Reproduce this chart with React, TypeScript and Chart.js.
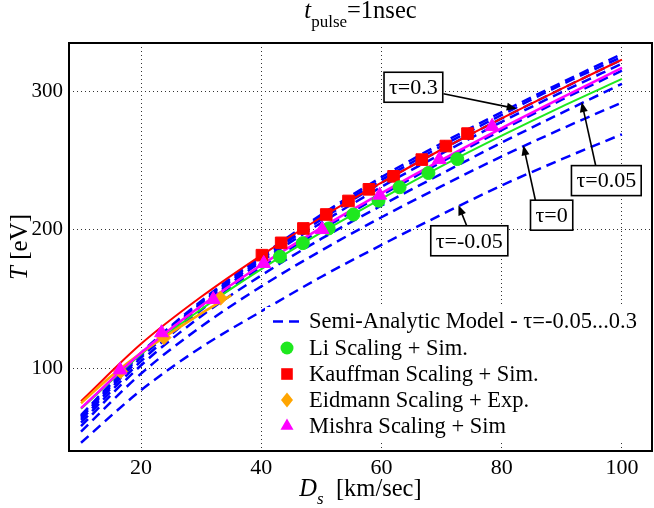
import { useEffect, useRef } from 'react';
import Chart from 'chart.js/auto';

// shock velocity samples of the semi-analytic curves [km/sec]
const modelD = [10, 20, 30, 40, 50, 60, 70, 80, 90, 100];

// semi-analytic model, one curve per tau (T in eV)
const tauM005T = [46, 84, 115, 141, 166, 189, 211, 232, 251, 269];
const tau000T = [54, 96, 130, 159, 185, 209, 231.5, 253, 273, 292];
const tau005T = [58, 102, 137.5, 167, 193.5, 217.5, 240.5, 263, 284.5, 305.5];
const tau010T = [60.5, 105, 142, 173, 200, 225, 249, 272, 294, 315];
const tau015T = [62.5, 107.5, 145, 177, 205, 231, 255, 278, 299.5, 320];
const tau020T = [64, 109, 146.5, 178.5, 207.5, 234, 258, 280.5, 302, 323];
const tau025T = [65, 110, 147.5, 180, 209.5, 236, 260.5, 283, 305, 325];
const tau030T = [66, 111, 148.5, 181, 211, 238, 262.5, 285, 306.5, 327];

// scaling law curves
const liCurveT = [70.5, 110, 142.5, 171.5, 198, 222.5, 246, 268, 289, 309];
const kauffmanCurveT = [76, 117.5, 151.5, 181.5, 209, 234, 258, 280.5, 302, 323];
const mishraCurveT = [71, 111, 145, 174.5, 201.5, 226.5, 250.5, 273.5, 295.5, 317];
const eidmannCurveD = [10, 15, 20, 25, 30, 35];
const eidmannCurveT = [74.5, 94, 111, 125.5, 139.5, 152.5];

// simulation / experiment points
const liD = [43.1, 46.9, 51.2, 55.3, 59.5, 63.0, 67.8, 72.6];
const liT = [180.5, 190.3, 200.9, 211, 221, 230.7, 241, 251.1];
const kauffmanD = [40.1, 43.3, 47.0, 50.8, 54.5, 57.9, 62.0, 66.7, 70.7, 74.3];
const kauffmanT = [181.6, 190.5, 200.9, 211, 220.8, 229.2, 238.6, 250.7, 260.5, 269.5];
const eidmannD = [16.6, 23.8, 33.2];
const eidmannT = [97.5, 122, 150.5];
const mishraD = [16.5, 23.4, 32.0, 40.4, 50.1, 59.7, 69.6, 78.4];
const mishraT = [98.6, 125.5, 149.6, 175.6, 200.1, 225, 250.7, 274.7];

const xTicks = [20, 40, 60, 80, 100];
const yTicks = [100, 200, 300];

const legendLabels = [
  'Semi-Analytic Model - τ=-0.05...0.3',
  'Li Scaling + Sim.',
  'Kauffman Scaling + Sim.',
  'Eidmann Scaling + Exp.',
  'Mishra Scaling + Sim',
];

const SERIF = '"Liberation Serif", "DejaVu Serif", serif';
const BLUE = '#0000ff';
const GREEN = '#1ee81e';
const RED = '#ff0000';
const ORANGE = '#ffa500';
const MAGENTA = '#ff00ff';

// callout boxes, in data units: box centre, arrow tail, arrow tip
const notes = [
  { label: 'τ=0.3', box: [65.3, 303], tail: [70.3, 298.3], tip: [82.5, 287.5] },
  { label: 'τ=0.05', box: [97.4, 235.5], tail: [95.7, 245], tip: [93.3, 292.3] },
  { label: 'τ=0', box: [88.3, 210.5], tail: [85.6, 221.3], tip: [83.6, 261] },
  { label: 'τ=-0.05', box: [74.6, 192], tail: [74.2, 202.5], tip: [72.8, 217.7] },
];

const pts = (xs: number[], ys: number[]) => xs.map((x, i) => ({ x, y: ys[i] }));

function arrow(ctx: CanvasRenderingContext2D, x0: number, y0: number, x1: number, y1: number) {
  const a = Math.atan2(y1 - y0, x1 - x0);
  const len = 10, hw = 4;
  ctx.strokeStyle = '#000';
  ctx.fillStyle = '#000';
  ctx.lineWidth = 1.6;
  ctx.beginPath();
  ctx.moveTo(x0, y0);
  ctx.lineTo(x1 - Math.cos(a) * len * 0.8, y1 - Math.sin(a) * len * 0.8);
  ctx.stroke();
  ctx.beginPath();
  ctx.moveTo(x1, y1);
  ctx.lineTo(x1 - Math.cos(a) * len - Math.sin(a) * hw, y1 - Math.sin(a) * len + Math.cos(a) * hw);
  ctx.lineTo(x1 - Math.cos(a) * len + Math.sin(a) * hw, y1 - Math.sin(a) * len - Math.cos(a) * hw);
  ctx.closePath();
  ctx.fill();
}

type Part = { t: string; italic?: boolean; sub?: boolean };

function richWidth(ctx: CanvasRenderingContext2D, parts: Part[], size: number, subSize: number) {
  let w = 0;
  for (const p of parts) {
    ctx.font = `${p.italic ? 'italic ' : ''}${p.sub ? subSize : size}px ${SERIF}`;
    w += ctx.measureText(p.t).width;
  }
  return w;
}

function drawRich(ctx: CanvasRenderingContext2D, parts: Part[], cx: number, base: number, size: number, subSize: number, drop: number) {
  let x = cx - richWidth(ctx, parts, size, subSize) / 2;
  ctx.textAlign = 'left';
  ctx.textBaseline = 'alphabetic';
  ctx.fillStyle = '#000';
  for (const p of parts) {
    ctx.font = `${p.italic ? 'italic ' : ''}${p.sub ? subSize : size}px ${SERIF}`;
    ctx.fillText(p.t, x, base + (p.sub ? drop : 0));
    x += ctx.measureText(p.t).width;
  }
}

function marker(ctx: CanvasRenderingContext2D, kind: string, x: number, y: number, color: string) {
  ctx.fillStyle = color;
  ctx.beginPath();
  if (kind === 'circle') ctx.arc(x, y, 6.5, 0, Math.PI * 2);
  if (kind === 'rect') ctx.rect(x - 5.8, y - 5.8, 11.6, 11.6);
  if (kind === 'rectRot') {
    ctx.moveTo(x, y - 7.5); ctx.lineTo(x + 6, y); ctx.lineTo(x, y + 7.5); ctx.lineTo(x - 6, y);
  }
  if (kind === 'triangle') {
    ctx.moveTo(x, y - 7.5); ctx.lineTo(x + 6.5, y + 3.75); ctx.lineTo(x - 6.5, y + 3.75);
  }
  ctx.closePath();
  ctx.fill();
}

const decorPlugin = {
  id: 'decor',
  afterDatasetsDraw(chart: any) {
    const { ctx, chartArea, scales } = chart;
    const xs = scales.x, ys = scales.y;
    ctx.save();

    // tau callouts
    for (const n of notes) {
      arrow(ctx, xs.getPixelForValue(n.tail[0]), ys.getPixelForValue(n.tail[1]),
        xs.getPixelForValue(n.tip[0]), ys.getPixelForValue(n.tip[1]));
    }
    ctx.font = `22px ${SERIF}`;
    for (const n of notes) {
      const cx = xs.getPixelForValue(n.box[0]), cy = ys.getPixelForValue(n.box[1]);
      const w = ctx.measureText(n.label).width + 10, h = 30;
      ctx.fillStyle = '#fff';
      ctx.fillRect(cx - w / 2, cy - h / 2, w, h);
      ctx.strokeStyle = '#000';
      ctx.lineWidth = 1.6;
      ctx.strokeRect(cx - w / 2, cy - h / 2, w, h);
      ctx.fillStyle = '#000';
      ctx.textAlign = 'center';
      ctx.textBaseline = 'middle';
      ctx.fillText(n.label, cx, cy + 1);
    }

    // legend (frameless, white background)
    ctx.fillStyle = '#fff';
    ctx.fillRect(265, 307, chartArea.right - 267, 135);
    const rowY = [321.5, 348, 374, 400, 426];
    ctx.strokeStyle = BLUE;
    ctx.lineWidth = 2.5;
    ctx.setLineDash([10, 6]);
    ctx.beginPath();
    ctx.moveTo(273, rowY[0]);
    ctx.lineTo(301, rowY[0]);
    ctx.stroke();
    ctx.setLineDash([]);
    marker(ctx, 'circle', 287, rowY[1], GREEN);
    marker(ctx, 'rect', 287, rowY[2], RED);
    marker(ctx, 'rectRot', 287, rowY[3], ORANGE);
    marker(ctx, 'triangle', 287, rowY[4], MAGENTA);
    ctx.font = `22.5px ${SERIF}`;
    ctx.fillStyle = '#000';
    ctx.textAlign = 'left';
    ctx.textBaseline = 'middle';
    legendLabels.forEach((l, i) => ctx.fillText(l, 309, rowY[i] + 1));
    ctx.restore();
  },
  afterDraw(chart: any) {
    const { ctx, chartArea } = chart;
    ctx.save();
    ctx.strokeStyle = '#000';
    ctx.lineWidth = 2;
    ctx.strokeRect(chartArea.left, chartArea.top, chartArea.right - chartArea.left, chartArea.bottom - chartArea.top);
    const mid = (chartArea.left + chartArea.right) / 2;
    drawRich(ctx, [{ t: 't', italic: true }, { t: 'pulse', sub: true }, { t: '=1nsec' }], mid, 18, 24.5, 17, 9);
    drawRich(ctx, [{ t: 'D', italic: true }, { t: 's', italic: true, sub: true }, { t: '  [km/sec]' }], mid, 496, 24.5, 17, 8);
    ctx.translate(27, (chartArea.top + chartArea.bottom) / 2);
    ctx.rotate(-Math.PI / 2);
    drawRich(ctx, [{ t: 'T', italic: true }, { t: ' [eV]' }], 0, 0, 25, 17, 0);
    ctx.restore();
  },
};

const curve = (label: string, xs: number[], ys: number[], color: string, width: number, order: number, dash: number[] = []) => ({
  label,
  data: pts(xs, ys),
  borderColor: color,
  backgroundColor: color,
  borderWidth: width,
  borderDash: dash,
  pointRadius: 0,
  pointHoverRadius: 0,
  tension: 0.4,
  cubicInterpolationMode: 'monotone' as const,
  fill: false,
  order,
});

const markers = (label: string, xs: number[], ys: number[], color: string, style: string, radius: number, order: number) => ({
  label,
  data: pts(xs, ys),
  showLine: false,
  borderColor: color,
  backgroundColor: color,
  pointBackgroundColor: color,
  pointBorderColor: color,
  pointBorderWidth: 1,
  pointStyle: style,
  pointRadius: radius,
  pointHoverRadius: radius,
  order,
});

export default function App() {
  const canvasRef = useRef<HTMLCanvasElement | null>(null);

  useEffect(() => {
    document.body.style.margin = '0';
    if (!canvasRef.current) return;
    const dashed = [10, 6];
    const chart = new Chart(canvasRef.current, {
      type: 'line',
      data: {
        datasets: [
          curve('τ=-0.05', modelD, tauM005T, BLUE, 2.5, 10, dashed),
          curve('τ=0', modelD, tau000T, BLUE, 2.5, 10, dashed),
          curve('τ=0.05', modelD, tau005T, BLUE, 2.5, 10, dashed),
          curve('τ=0.1', modelD, tau010T, BLUE, 2.5, 10, dashed),
          curve('τ=0.15', modelD, tau015T, BLUE, 2.5, 10, dashed),
          curve('τ=0.2', modelD, tau020T, BLUE, 2.5, 10, dashed),
          curve('τ=0.25', modelD, tau025T, BLUE, 2.5, 10, dashed),
          curve('τ=0.3', modelD, tau030T, BLUE, 2.5, 10, dashed),
          curve('Li', modelD, liCurveT, GREEN, 2, 6),
          curve('Kauffman', modelD, kauffmanCurveT, RED, 2, 5),
          curve('Eidmann', eidmannCurveD, eidmannCurveT, ORANGE, 2.5, 4),
          curve('Mishra', modelD, mishraCurveT, MAGENTA, 2.5, 3),
          markers('Li Scaling + Sim.', liD, liT, GREEN, 'circle', 6.5, 2),
          markers('Kauffman Scaling + Sim.', kauffmanD, kauffmanT, RED, 'rect', 8.2, 2),
          markers('Eidmann Scaling + Exp.', eidmannD, eidmannT, ORANGE, 'rectRot', 7, 1),
          markers('Mishra Scaling + Sim', mishraD, mishraT, MAGENTA, 'triangle', 8, 0),
        ],
      },
      options: {
        animation: false,
        responsive: false,
        maintainAspectRatio: false,
        events: [],
        layout: { autoPadding: false, padding: { top: 43, right: 2, left: 0, bottom: 0 } },
        plugins: { legend: { display: false }, tooltip: { enabled: false }, title: { display: false } },
        scales: {
          x: {
            type: 'linear',
            min: 8,
            max: 105,
            afterBuildTicks: (s: any) => { s.ticks = xTicks.map(v => ({ value: v })); },
            afterFit: (s: any) => { s.height = 57; s.paddingLeft = 0; s.paddingRight = 0; },
            grid: { color: '#333', lineWidth: 1, drawTicks: false },
            border: { display: false, dash: [1, 3] },
            ticks: { color: '#000', font: { family: SERIF, size: 22 }, padding: 4, maxRotation: 0, autoSkip: false },
          },
          y: {
            type: 'linear',
            min: 40,
            max: 335,
            afterBuildTicks: (s: any) => { s.ticks = yTicks.map(v => ({ value: v })); },
            afterFit: (s: any) => { s.width = 69; s.paddingTop = 0; s.paddingBottom = 0; },
            grid: { color: '#333', lineWidth: 1, drawTicks: false },
            border: { display: false, dash: [1, 3] },
            ticks: { color: '#000', font: { family: SERIF, size: 21 }, padding: 6 },
          },
        },
      },
      plugins: [decorPlugin],
    } as any);
    return () => chart.destroy();
  }, []);

  return (
    <div style={{ width: 654, height: 508, position: 'relative', background: '#fff' }}>
      <canvas ref={canvasRef} width={654} height={508} style={{ width: 654, height: 508, display: 'block' }} />
    </div>
  );
}
